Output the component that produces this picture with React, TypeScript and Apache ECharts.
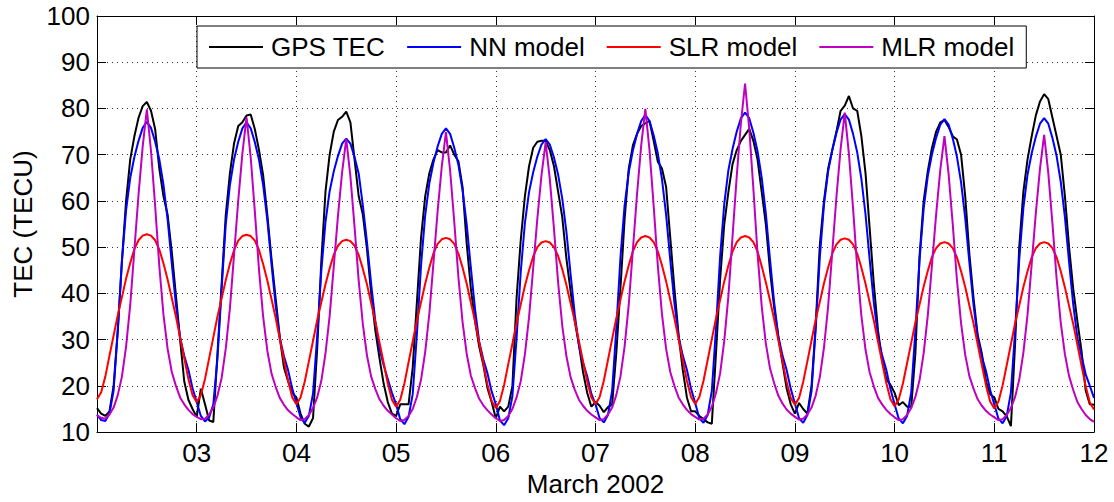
import React, { useEffect, useRef } from "react";
import * as echarts from "echarts";

// Hourly samples, 2 March 00 UT .. 12 March 00 UT (241 points per series)
const startDay = 2;
const samplesPerDay = 24;
const seriesNames = ["GPS TEC", "NN model", "SLR model", "MLR model"];
const seriesColors = ["#000000", "#0000ff", "#ff0000", "#bf00bf"];

const gpsTec = [
  15.2, 14.0, 13.5, 14.5, 20.0, 32.0, 47.0, 60.0, 69.0, 74.0, 78.0, 80.5, 81.4, 79.5, 75.5, 67.0, 61.0, 57.0, 49.0, 39.5, 30.0, 21.0, 17.0, 15.0,
  13.3, 19.4, 16.0, 12.5, 12.2, 27.0, 42.0, 57.0, 66.0, 72.5, 76.2, 77.0, 78.5, 78.7, 75.5, 71.0, 65.5, 57.0, 47.5, 39.0, 30.5, 24.0, 21.0, 18.5,
  17.5, 14.0, 11.8, 11.2, 13.0, 28.0, 47.0, 62.0, 70.0, 75.0, 77.5, 78.2, 79.3, 77.0, 69.0, 61.0, 57.0, 49.5, 40.0, 32.0, 26.0, 20.5, 16.5, 14.0,
  13.5, 16.0, 16.0, 16.0, 24.0, 38.0, 52.0, 61.0, 66.0, 69.0, 71.0, 70.5, 70.5, 72.0, 70.0, 68.6, 63.0, 50.7, 41.0, 34.0, 28.5, 24.5, 19.5, 16.5,
  13.0, 15.5, 14.5, 15.5, 20.0, 39.0, 51.5, 61.0, 67.5, 71.5, 72.8, 73.0, 73.0, 71.0, 67.5, 62.0, 56.5, 47.5, 40.5, 34.0, 29.0, 23.0, 18.5, 15.5,
  16.5, 15.7, 14.3, 15.4, 16.0, 27.0, 41.0, 56.0, 67.0, 72.0, 74.5, 76.2, 76.8, 77.3, 73.0, 68.5, 67.0, 63.0, 52.0, 41.0, 31.0, 23.5, 17.5, 14.5,
  14.5, 13.5, 12.8, 12.1, 11.8, 27.0, 43.0, 55.0, 62.0, 68.0, 71.0, 73.0, 74.3, 75.6, 73.0, 69.0, 62.0, 55.0, 45.0, 37.0, 30.7, 25.0, 19.5, 16.0,
  14.0, 16.3, 15.0, 14.0, 20.0, 33.0, 50.5, 60.0, 67.0, 71.0, 75.0, 79.5, 80.6, 82.7, 80.0, 79.5, 74.0, 66.0, 54.0, 42.0, 32.0, 25.5, 21.5, 20.2,
  18.5, 15.8, 16.5, 15.5, 15.5, 27.0, 48.0, 60.0, 66.5, 71.5, 75.0, 77.0, 77.5, 76.0, 74.0, 73.3, 70.0, 61.0, 48.5, 39.0, 31.0, 27.0, 21.0, 18.2,
  17.5, 15.0, 14.5, 13.4, 11.3, 29.0, 50.0, 62.0, 69.0, 74.0, 78.5, 81.5, 83.1, 82.0, 78.0, 74.0, 70.0, 61.0, 50.0, 41.0, 34.0, 27.5, 19.0, 16.0,
  15.9,
];

const nnModel = [
  13.8, 12.6, 12.4, 14.0, 19.0, 32.0, 47.0, 58.0, 65.0, 69.5, 73.0, 75.8, 77.1, 75.8, 72.8, 69.0, 63.5, 56.0, 46.5, 37.5, 30.5, 26.5, 23.5, 19.5,
  16.5, 13.5, 12.3, 13.2, 16.0, 26.0, 41.0, 55.0, 63.5, 69.0, 72.8, 75.7, 77.0, 75.7, 72.7, 68.9, 63.4, 55.9, 46.4, 37.4, 30.4, 26.4, 23.4, 19.4,
  16.3, 13.2, 12.0, 13.5, 18.3, 30.7, 44.9, 55.4, 62.1, 66.4, 69.7, 72.4, 73.5, 72.4, 69.5, 65.9, 59.0, 51.0, 42.0, 34.0, 28.0, 24.5, 21.5, 18.5,
  16.0, 12.8, 11.7, 13.3, 18.2, 31.1, 46.0, 56.9, 63.8, 68.3, 71.8, 74.5, 75.7, 74.5, 71.5, 67.8, 62.3, 54.9, 45.5, 36.6, 29.6, 25.7, 22.7, 18.8,
  16.0, 12.5, 11.5, 13.0, 17.8, 30.3, 44.6, 55.2, 61.9, 66.2, 69.6, 72.2, 73.4, 72.2, 69.4, 65.7, 60.5, 53.3, 44.2, 35.5, 28.8, 25.0, 22.1, 18.3,
  16.0, 13.0, 12.1, 13.7, 18.9, 32.3, 47.7, 59.0, 66.2, 70.9, 74.5, 77.3, 78.6, 77.3, 74.2, 70.3, 64.7, 57.0, 47.2, 37.9, 30.7, 26.6, 23.5, 19.4,
  16.3, 13.0, 12.0, 13.7, 18.9, 32.4, 48.0, 59.4, 66.7, 71.3, 75.0, 77.9, 79.1, 77.9, 74.8, 70.8, 65.1, 57.3, 47.4, 38.1, 30.8, 26.6, 23.5, 19.4,
  16.2, 13.0, 12.0, 13.7, 18.8, 32.3, 47.8, 59.2, 66.4, 71.0, 74.7, 77.6, 78.8, 77.6, 74.5, 70.5, 64.8, 57.1, 47.3, 38.0, 30.7, 26.6, 23.5, 19.3,
  16.0, 12.9, 11.9, 13.5, 18.6, 31.9, 47.2, 58.4, 65.5, 70.1, 73.7, 76.5, 77.7, 76.5, 73.5, 69.6, 64.0, 56.3, 46.7, 37.5, 30.3, 26.3, 23.2, 19.1,
  16.0, 12.9, 11.9, 13.5, 18.6, 31.9, 47.3, 58.5, 65.7, 70.3, 73.9, 76.7, 77.9, 76.7, 73.6, 69.7, 64.1, 56.5, 46.8, 37.6, 30.4, 26.4, 22.5, 20.0,
  17.4,
];

const slrModel = [
  17.1, 18.6, 22.0, 26.5, 30.9, 35.3, 39.2, 43.2, 46.6, 49.6, 51.5, 52.5, 52.8, 52.5, 51.5, 49.5, 46.5, 43.0, 39.0, 35.0, 30.5, 26.0, 21.5, 18.0,
  16.5, 18.0, 21.5, 26.0, 30.5, 35.0, 38.9, 42.9, 46.4, 49.4, 51.4, 52.4, 52.7, 52.4, 51.4, 49.4, 46.3, 42.8, 38.8, 34.7, 30.2, 25.6, 21.1, 17.5,
  16.0, 17.5, 20.9, 25.3, 29.7, 34.2, 38.1, 42.0, 45.4, 48.4, 50.3, 51.3, 51.6, 51.3, 50.3, 48.3, 45.3, 41.9, 37.9, 33.9, 29.4, 25.0, 20.5, 17.0,
  15.5, 17.0, 20.5, 25.1, 29.6, 34.1, 38.1, 42.1, 45.6, 48.7, 50.7, 51.7, 52.0, 51.7, 50.7, 48.6, 45.6, 42.1, 38.0, 34.0, 29.4, 24.8, 20.3, 16.7,
  15.2, 16.7, 20.2, 24.7, 29.1, 33.6, 37.6, 41.6, 45.0, 48.0, 50.0, 51.0, 51.3, 51.0, 50.0, 48.1, 45.2, 41.8, 37.9, 34.1, 29.7, 25.3, 21.0, 17.5,
  16.1, 17.6, 21.1, 25.6, 30.1, 34.6, 38.6, 42.6, 46.1, 49.1, 51.1, 52.1, 52.4, 52.1, 51.1, 49.1, 46.1, 42.6, 38.6, 34.6, 30.1, 25.6, 21.1, 17.6,
  16.1, 17.6, 21.1, 25.6, 30.1, 34.6, 38.6, 42.6, 46.1, 49.1, 51.1, 52.1, 52.4, 52.1, 51.1, 49.1, 45.9, 42.4, 38.5, 34.4, 29.9, 25.4, 20.9, 17.4,
  15.9, 17.4, 20.9, 25.3, 29.8, 34.3, 38.2, 42.2, 45.6, 48.6, 50.6, 51.6, 51.9, 51.6, 50.6, 48.6, 45.6, 42.1, 38.1, 34.1, 29.6, 25.1, 20.6, 17.1,
  15.6, 17.1, 20.5, 24.9, 29.3, 33.7, 37.6, 41.5, 44.9, 47.9, 49.8, 50.8, 51.1, 50.8, 49.8, 47.8, 44.8, 41.4, 37.4, 33.5, 29.0, 24.5, 20.1, 16.6,
  15.1, 16.6, 20.1, 24.5, 29.0, 33.5, 37.4, 41.4, 44.8, 47.8, 49.8, 50.8, 51.1, 50.8, 49.8, 47.8, 44.8, 41.3, 37.3, 33.4, 28.9, 24.4, 19.9, 16.4,
  14.9,
];

const mlrModel = [
  13.6, 13.1, 12.9, 13.8, 15.3, 18.0, 22.0, 28.5, 37.5, 49.5, 61.4, 71.8, 79.8, 70.8, 58.9, 45.9, 35.4, 28.0, 23.0, 20.0, 17.5, 16.0, 14.8, 13.9,
  13.3, 12.8, 12.9, 13.8, 15.3, 17.9, 21.7, 28.1, 36.8, 48.5, 60.1, 70.3, 78.1, 69.4, 57.7, 45.1, 34.9, 27.6, 22.7, 19.8, 17.4, 15.9, 14.7, 13.9,
  13.2, 12.6, 12.8, 13.7, 15.2, 17.5, 21.1, 27.0, 35.1, 45.9, 56.7, 66.2, 73.4, 65.3, 54.4, 42.7, 33.3, 26.5, 22.0, 19.3, 17.1, 15.7, 14.6, 13.8,
  13.0, 12.4, 12.6, 13.5, 15.0, 17.6, 21.3, 27.3, 35.6, 46.7, 57.8, 67.5, 74.9, 66.6, 55.5, 43.5, 33.8, 26.9, 22.2, 19.5, 17.2, 15.8, 14.7, 13.8,
  13.0, 12.4, 12.6, 13.5, 15.0, 17.5, 21.0, 26.8, 34.8, 45.5, 56.2, 65.6, 72.7, 64.7, 54.0, 42.4, 33.0, 26.4, 21.9, 19.2, 17.0, 15.7, 14.6, 13.8,
  13.2, 12.6, 12.8, 13.8, 15.3, 18.0, 22.0, 28.5, 37.5, 49.5, 61.5, 72.0, 79.9, 71.0, 59.0, 46.0, 35.5, 28.0, 23.0, 20.0, 17.5, 16.0, 14.8, 13.9,
  13.3, 12.7, 12.9, 13.8, 15.5, 18.4, 22.7, 29.8, 39.5, 52.5, 65.4, 76.8, 85.4, 75.7, 62.7, 48.7, 37.3, 29.2, 23.8, 20.6, 17.9, 16.2, 14.9, 14.0,
  13.3, 12.7, 12.9, 13.8, 15.3, 17.9, 21.9, 28.3, 37.2, 49.0, 60.9, 71.2, 79.1, 70.2, 58.4, 45.6, 35.2, 27.8, 22.9, 19.9, 17.4, 16.0, 14.8, 13.9,
  13.2, 12.6, 12.8, 13.7, 15.2, 17.6, 21.2, 27.1, 35.3, 46.2, 57.1, 66.7, 74.0, 65.8, 54.9, 43.0, 33.5, 26.7, 22.1, 19.4, 17.1, 15.7, 14.6, 13.8,
  13.2, 12.6, 12.8, 13.7, 15.2, 17.6, 21.3, 27.2, 35.4, 46.4, 57.4, 67.0, 74.3, 66.0, 55.1, 43.2, 33.6, 26.8, 22.1, 19.1, 16.5, 15.0, 13.7, 12.8,
  12.2,
];

const FONT = "'Liberation Sans', Arial, Helvetica, sans-serif";

function toPoints(values: number[]) {
  return values.map((v, i) => [startDay + i / samplesPerDay, v]);
}

export default function App() {
  const ref = useRef<HTMLDivElement>(null);

  useEffect(() => {
    if (!ref.current) return;
    const chart = echarts.init(ref.current, null, { renderer: "svg" });
    const allValues = [gpsTec, nnModel, slrModel, mlrModel];

    const axisLine = { show: true, onZero: false, lineStyle: { color: "#000", width: 1 } };
    const tick = { show: true, inside: true, length: 9, lineStyle: { color: "#000", width: 1 } };
    const dotted = { show: true, lineStyle: { color: "#333", width: 1, type: [1, 4] as any } };

    chart.setOption({
      animation: false,
      backgroundColor: "#fff",
      textStyle: { fontFamily: FONT },
      grid: { left: 97, right: 20, top: 16, bottom: 66, containLabel: false },
      legend: {
        left: 197,
        top: 26,
        orient: "horizontal",
        backgroundColor: "#fff",
        borderColor: "#000",
        borderWidth: 1,
        padding: [8, 12, 8, 12],
        itemGap: 22,
        itemWidth: 54,
        itemHeight: 2,
        icon: "rect",
        textStyle: { fontSize: 26, color: "#000", fontFamily: FONT, padding: [0, 0, 0, 3], lineHeight: 26 },
        data: seriesNames,
      },
      xAxis: [
        {
          type: "value",
          min: 2,
          max: 12,
          interval: 1,
          position: "bottom",
          axisLine,
          axisTick: tick,
          axisLabel: {
            fontSize: 26,
            color: "#000",
            fontFamily: FONT,
            margin: 8,
            formatter: (v: number) => (v === startDay ? "" : String(v).padStart(2, "0")),
          },
          splitLine: dotted,
          name: "March 2002",
          nameLocation: "middle",
          nameGap: 35,
          nameTextStyle: { fontSize: 26, color: "#000", fontFamily: FONT },
        },
        {
          type: "value",
          min: 2,
          max: 12,
          interval: 1,
          position: "top",
          axisLine,
          axisTick: tick,
          axisLabel: { show: false },
          splitLine: { show: false },
        },
      ],
      yAxis: [
        {
          type: "value",
          min: 10,
          max: 100,
          interval: 10,
          position: "left",
          axisLine,
          axisTick: tick,
          axisLabel: { fontSize: 26, color: "#000", fontFamily: FONT, margin: 7 },
          splitLine: dotted,
          name: "TEC (TECU)",
          nameLocation: "middle",
          nameRotate: 90,
          nameGap: 60,
          nameTextStyle: { fontSize: 26, color: "#000", fontFamily: FONT },
        },
        {
          type: "value",
          min: 10,
          max: 100,
          interval: 10,
          position: "right",
          axisLine,
          axisTick: tick,
          axisLabel: { show: false },
          splitLine: { show: false },
        },
      ],
      series: seriesNames.map((name, k) => ({
        name,
        type: "line",
        xAxisIndex: 0,
        yAxisIndex: 0,
        symbol: "none",
        showSymbol: false,
        smooth: false,
        clip: true,
        lineStyle: { color: seriesColors[k], width: 2 },
        itemStyle: { color: seriesColors[k] },
        data: toPoints(allValues[k]),
      })),
    });

    return () => chart.dispose();
  }, []);

  return (
    <div
      ref={ref}
      style={{ position: "absolute", left: 0, top: 0, width: 1114, height: 502 }}
    />
  );
}
